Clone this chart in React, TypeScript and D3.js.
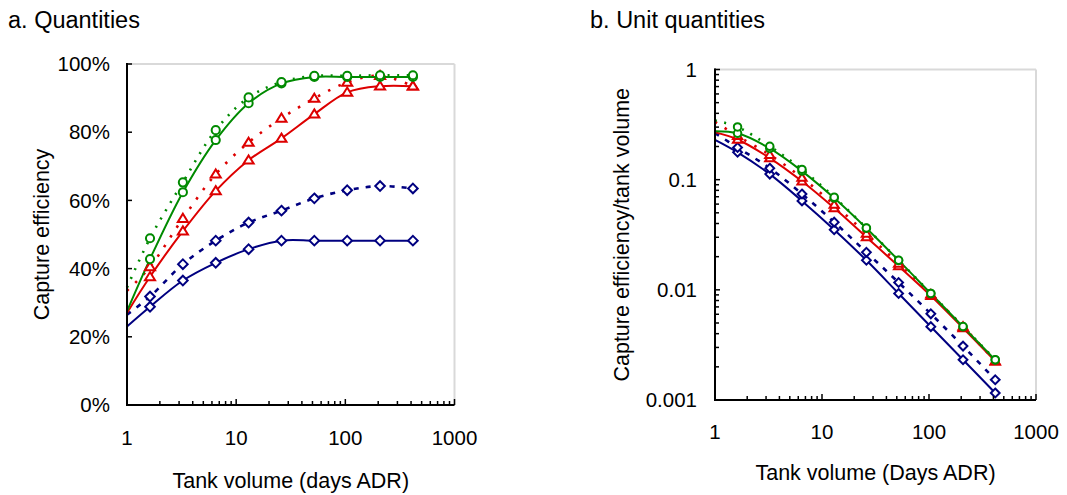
import React from "react";
import * as d3 from "d3";

// ---- Data ----
const volumes = [1, 1.625, 3.25, 6.5, 13, 26, 52, 104, 208, 416];
// capture efficiency (%) ; first value = line start at volume 1 (no marker)
const greenUpper = [34.5, 48.9, 65.3, 80.6, 90.2, 94.7, 96.5, 96.5, 96.7, 96.7];
const greenLower = [27.5, 42.8, 62.4, 77.7, 88.5, 94.3, 96.2, 96.2, 96.2, 96.2];
const redUpper = [33.5, 40.5, 54.7, 67.7, 77.0, 84.1, 89.9, 94.6, 96.6, 93.5];
const redLower = [27.0, 37.6, 51.0, 62.8, 71.8, 78.2, 85.3, 91.7, 93.5, 93.5];
const navyUpper = [26.5, 31.8, 41.3, 48.2, 53.5, 57.0, 60.6, 63.0, 64.2, 63.5];
const navyLower = [23.0, 28.8, 36.5, 41.7, 45.7, 48.2, 48.2, 48.2, 48.2, 48.2];

const xTicks = [1, 10, 100, 1000];
const leftYTicks = [0, 20, 40, 60, 80, 100];
const rightYTicks = [0.001, 0.01, 0.1, 1];
const rightYLabels = ["0.001", "0.01", "0.1", "1"];

const GREEN = "#008a00";
const RED = "#dd0000";
const NAVY = "#000080";
const FONT = "'Liberation Sans', Arial, sans-serif";

type Series = { values: number[]; color: string; dash: string | null; marker: "circle" | "triangle" | "diamond" };
const series: Series[] = [
  { values: navyLower, color: NAVY, dash: null, marker: "diamond" },
  { values: navyUpper, color: NAVY, dash: "5,7", marker: "diamond" },
  { values: redLower, color: RED, dash: null, marker: "triangle" },
  { values: redUpper, color: RED, dash: "2.5,9", marker: "triangle" },
  { values: greenLower, color: GREEN, dash: null, marker: "circle" },
  { values: greenUpper, color: GREEN, dash: "2,7.5", marker: "circle" },
];

function minorTicks(lo: number, hi: number) {
  const out: number[] = [];
  for (let d = lo; d < hi; d *= 10) for (let k = 2; k <= 9; k++) out.push(d * k);
  return out;
}

function Marker({ kind, x, y, color, s }: { kind: string; x: number; y: number; color: string; s: number }) {
  if (kind === "circle") return <circle cx={x} cy={y} r={s * 0.85} fill="white" stroke={color} strokeWidth={2} />;
  if (kind === "triangle") {
    const h = s * 1.7;
    const w = s * 1.05;
    return (
      <path d={`M${x},${y - h * 0.58}L${x + w},${y + h * 0.42}L${x - w},${y + h * 0.42}Z`} fill="white" stroke={color} strokeWidth={2} />
    );
  }
  const r = s * 1.0;
  return <path d={`M${x},${y - r}L${x + r},${y}L${x},${y + r}L${x - r},${y}Z`} fill="white" stroke={color} strokeWidth={2} />;
}

function Panel({
  x0, x1, y0, y1, yScale, yTicks, yLabels, transform, title, titleX, yTitle, yTitleX, xTitle, xTitleY, xTickY, yLabelX, markerSize, clipId,
}: any) {
  const xs = d3.scaleLog().domain([1, 1000]).range([x0, x1]);
  const line = d3
    .line<[number, number]>()
    .x((d) => xs(d[0]))
    .y((d) => yScale(d[1]))
    .curve(d3.curveCatmullRom.alpha(0.5));
  const minors = minorTicks(1, 1000);
  const yMinors = yScale.base ? minorTicks(0.001, 1) : [];
  return (
    <g>
      <defs>
        <clipPath id={clipId}>
          <rect x={x0 - 6} y={y1} width={x1 - x0 + 6} height={y0 - y1} />
        </clipPath>
      </defs>
      <text x={titleX} y={28} fontSize={23.5} fontFamily={FONT}>{title}</text>
      {/* plot frame */}
      <line x1={x0} y1={y1} x2={x1} y2={y1} stroke="#d9d9d9" strokeWidth={2} />
      <line x1={x1} y1={y1} x2={x1} y2={y0} stroke="#d9d9d9" strokeWidth={2} />
      {/* series */}
      <g clipPath={`url(#${clipId})`}>
        {series.map((s: Series, i: number) => {
          const pts: [number, number][] = volumes.map((v, j) => [v, transform(s.values[j], v)]);
          return (
            <path key={i} d={line(pts) || ""} fill="none" stroke={s.color} strokeWidth={s.dash ? 2.6 : 2}
              strokeDasharray={s.dash || undefined} strokeLinecap={s.dash ? "butt" : "round"} />
          );
        })}
      </g>
      {series.map((s: Series, i: number) => (
        <g key={"m" + i}>
          {volumes.slice(1).map((v, j) => (
            <Marker key={j} kind={s.marker} x={xs(v)} y={yScale(transform(s.values[j + 1], v))} color={s.color} s={markerSize} />
          ))}
        </g>
      ))}
      {/* axes */}
      <line x1={x0} y1={y0} x2={x1} y2={y0} stroke="black" strokeWidth={2} />
      <line x1={x0} y1={y0 + 1} x2={x0} y2={y1 - 1} stroke="black" strokeWidth={2} />
      {xTicks.map((t) => (
        <g key={"xt" + t}>
          <line x1={xs(t)} x2={xs(t)} y1={y0} y2={y0 - 6} stroke="black" strokeWidth={1.5} />
          <text x={xs(t)} y={xTickY} textAnchor="middle" fontSize={20.5} fontFamily={FONT}>{t}</text>
        </g>
      ))}
      {minors.map((t) => (
        <line key={"xm" + t} x1={xs(t)} x2={xs(t)} y1={y0} y2={y0 - 4} stroke="black" strokeWidth={1.5} />
      ))}
      {yTicks.map((t: number, i: number) => (
        <g key={"yt" + t}>
          <line x1={x0 - 1} x2={x0 + 5} y1={yScale(t)} y2={yScale(t)} stroke="black" strokeWidth={1.5} />
          <text x={yLabelX} y={yScale(t)} dy="0.35em" textAnchor="end" fontSize={20.5} fontFamily={FONT}>{yLabels[i]}</text>
        </g>
      ))}
      {yMinors.map((t) => (
        <line key={"ym" + t} x1={x0} x2={x0 + 4} y1={yScale(t)} y2={yScale(t)} stroke="black" strokeWidth={1.5} />
      ))}
      <text x={(x0 + x1) / 2} y={xTitleY} textAnchor="middle" fontSize={21.5} fontFamily={FONT}>{xTitle}</text>
      <text transform={`translate(${yTitleX},${(y0 + y1) / 2}) rotate(-90)`} textAnchor="middle" fontSize={21.5} fontFamily={FONT}>{yTitle}</text>
    </g>
  );
}

export default function App() {
  const leftY = d3.scaleLinear().domain([0, 100]).range([405, 64]);
  const rightY = d3.scaleLog().domain([0.001, 1]).range([400, 69.5]);
  return (
    <svg width={1067} height={495} style={{ position: "absolute", left: 0, top: 0, background: "white" }}>
      <rect width={1067} height={495} fill="white" />
      <Panel
        x0={127} x1={454.5} y0={405} y1={64}
        yScale={leftY} yTicks={leftYTicks} yLabels={leftYTicks.map((t) => t + "%")}
        transform={(v: number) => v}
        title="a. Quantities" titleX={8}
        yTitle="Capture efficiency" yTitleX={49}
        xTitle="Tank volume (days ADR)" xTitleY={488} xTickY={445} yLabelX={110}
        markerSize={4.8} clipId="clipA"
      />
      <Panel
        x0={715} x1={1036} y0={400} y1={69.5}
        yScale={rightY} yTicks={rightYTicks} yLabels={rightYLabels}
        transform={(v: number, x: number) => v / 100 / x}
        title="b. Unit quantities" titleX={590}
        yTitle="Capture efficiency/tank volume" yTitleX={629}
        xTitle="Tank volume (Days ADR)" xTitleY={480} xTickY={439} yLabelX={697}
        markerSize={4.4} clipId="clipB"
      />
    </svg>
  );
}
